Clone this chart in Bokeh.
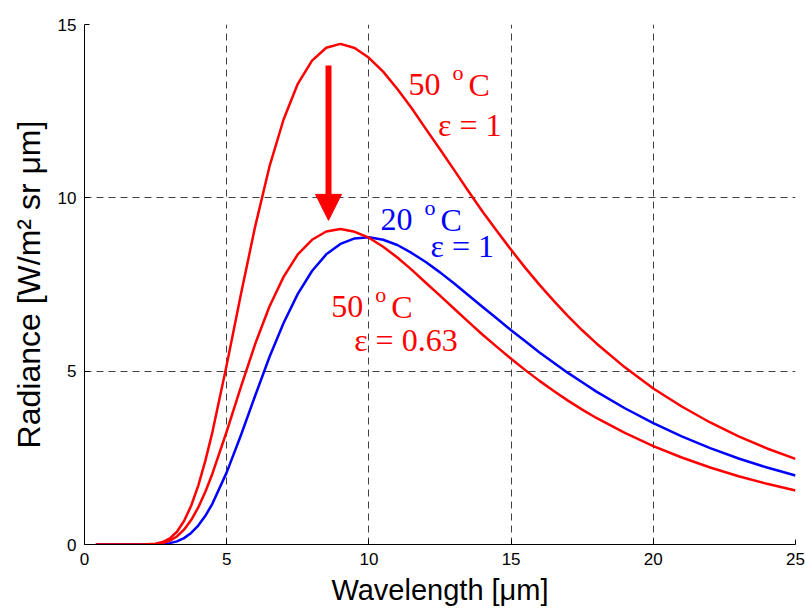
from bokeh.plotting import figure
from bokeh.models import Range1d, FixedTicker, Arrow, NormalHead
from bokeh.core.properties import value
from bokeh.embed import file_html
from bokeh.resources import INLINE

# Wavelength [um]
wavelength = [0.4, 1, 1.5, 2, 2.5, 2.75, 3, 3.25, 3.5, 3.75, 4, 4.25, 4.5,
              5, 5.5, 6, 6.5, 7, 7.5, 8, 8.5, 9, 9.5, 10, 10.5, 11, 11.5, 12,
              12.5, 13, 13.5, 14, 14.5, 15, 15.5, 16, 16.5, 17, 17.5,
              18, 19, 20, 21, 22, 23, 24, 25]
# 50 oC, eps = 1
rad_50_e1 = [0, 0, 0, 0.001, 0.023, 0.071, 0.176, 0.368, 0.677, 1.118, 1.70, 2.42, 3.25,
             5.18, 7.22, 9.17, 10.89, 12.26, 13.29, 13.96, 14.33, 14.44, 14.32, 14.04, 13.64, 13.14, 12.59, 11.99,
             11.40, 10.80, 10.19, 9.60, 9.04, 8.50, 7.98, 7.49, 7.03, 6.59, 6.18,
             5.80, 5.11, 4.50, 3.98, 3.52, 3.12, 2.77, 2.47]
# 50 oC, eps = 0.63
rad_50_e063 = [0, 0, 0, 0.001, 0.014, 0.045, 0.111, 0.232, 0.427, 0.704, 1.07, 1.52, 2.05,
               3.26, 4.55, 5.78, 6.86, 7.72, 8.37, 8.79, 9.03, 9.10, 9.02, 8.85, 8.59, 8.28, 7.93, 7.55,
               7.18, 6.80, 6.42, 6.05, 5.70, 5.36, 5.03, 4.72, 4.43, 4.15, 3.89,
               3.65, 3.22, 2.84, 2.51, 2.22, 1.97, 1.75, 1.56]
# 20 oC, eps = 1
rad_20_e1 = [0, 0, 0, 0.0001, 0.004, 0.013, 0.039, 0.091, 0.184, 0.332, 0.545, 0.827, 1.18,
             2.08, 3.15, 4.29, 5.40, 6.39, 7.23, 7.89, 8.37, 8.67, 8.83, 8.86, 8.79, 8.64, 8.41, 8.15,
             7.85, 7.53, 7.19, 6.85, 6.52, 6.18, 5.86, 5.54, 5.24, 4.95, 4.68,
             4.41, 3.93, 3.50, 3.12, 2.78, 2.48, 2.22, 1.99]

x_ticks = [0, 5, 10, 15, 20, 25]
y_ticks = [0, 5, 10, 15]

RED = "#ff0000"
BLUE = "#0000ff"
SERIF = value("Liberation Serif")

p = figure(width=805, height=610, output_backend="svg", toolbar_location=None,
           x_range=Range1d(0, 25), y_range=Range1d(0, 15),
           min_border_left=84, min_border_right=10, min_border_top=24, min_border_bottom=66)
p.outline_line_color = None
p.background_fill_color = "white"
p.border_fill_color = "white"

for ax in (p.xaxis[0], p.yaxis[0]):
    ax.major_tick_in = 5
    ax.major_tick_out = 0
    ax.minor_tick_line_color = None
    ax.axis_line_color = "black"
    ax.major_tick_line_color = "black"
    ax.major_label_text_font = "Liberation Sans"
    ax.major_label_text_font_size = "17px"
    ax.major_label_text_color = "black"
    ax.axis_label_text_font = "Liberation Sans"
    ax.axis_label_text_font_style = "normal"
    ax.axis_label_text_color = "black"

p.xaxis.ticker = FixedTicker(ticks=x_ticks)
p.yaxis.ticker = FixedTicker(ticks=y_ticks)
p.xaxis.major_label_standoff = 8
p.yaxis.major_label_standoff = 8
p.xaxis.axis_label = "Wavelength [\u03bcm]"
p.yaxis.axis_label = "Radiance [W/m\u00b2 sr \u03bcm]"
p.xaxis.axis_label_text_font_size = "29px"
p.yaxis.axis_label_text_font_size = "32px"
p.xaxis.axis_label_standoff = 6
p.yaxis.axis_label_standoff = 8

for g in (p.xgrid[0], p.ygrid[0]):
    g.grid_line_color = "#404040"
    g.grid_line_dash = "7 5"
    g.grid_line_width = 1

p.line(wavelength, rad_50_e1, line_color=RED, line_width=2.5, line_join="round")
p.line(wavelength, rad_20_e1, line_color=BLUE, line_width=2.5, line_join="round")
p.line(wavelength, rad_50_e063, line_color=RED, line_width=2.5, line_join="round")

# arrow showing the emissivity drop
p.add_layout(Arrow(x_start=8.58, y_start=13.82, x_end=8.58, y_end=9.35,
                   line_color=RED, line_width=6,
                   end=NormalHead(size=26, fill_color=RED, line_color=RED, line_width=1)))

def temp_label(x, y, num, color):
    p.text([x], [y], text=[num], text_font=SERIF, text_font_size="32px",
           text_color=color, text_baseline="alphabetic", text_align="left")
    p.text([x], [y], text=["o"], text_font=SERIF, text_font_size="22px",
           text_color=color, text_baseline="alphabetic", text_align="left",
           x_offset=44, y_offset=-12)
    p.text([x], [y], text=["C"], text_font=SERIF, text_font_size="32px",
           text_color=color, text_baseline="alphabetic", text_align="left",
           x_offset=60)

def eps_label(x, y, txt, color):
    p.text([x], [y], text=[txt], text_font=SERIF, text_font_size="32px",
           text_color=color, text_baseline="alphabetic", text_align="right")

temp_label(11.39, 13.26, "50", RED)
eps_label(14.66, 12.10, "\u03b5 = 1", RED)
temp_label(10.41, 9.37, "20", BLUE)
eps_label(14.40, 8.61, "\u03b5 = 1", BLUE)
temp_label(8.68, 6.86, "50", RED)
eps_label(13.12, 5.90, "\u03b5 = 0.63", RED)

open("out.html", "w").write(file_html(p, INLINE))
